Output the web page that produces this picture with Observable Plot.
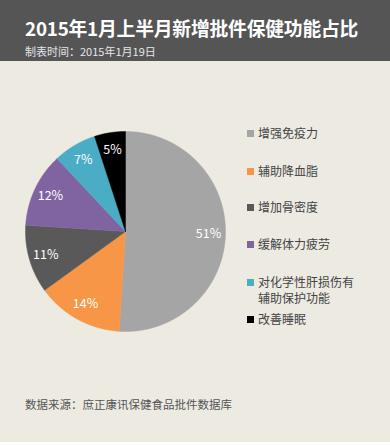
<!DOCTYPE html>
<html><head><meta charset="utf-8">
<script src="https://cdn.jsdelivr.net/npm/d3@7"></script>
<script src="https://cdn.jsdelivr.net/npm/@observablehq/plot@0.6"></script>
<style>
html,body{margin:0;padding:0;background:#fff;}
#wrap{position:relative;width:390px;height:446px;font-family:"Noto Sans CJK SC","Noto Sans",sans-serif;}
#head{position:absolute;left:0;top:0;width:390px;height:61px;background:#555555;}
#title{position:absolute;left:25px;top:14px;color:#fff;font-size:18.8px;font-weight:bold;white-space:nowrap;letter-spacing:-0.2px;}
#sub{position:absolute;left:25px;top:43px;color:#e6e6e6;font-size:11px;white-space:nowrap;}
#body{position:absolute;left:0;top:61px;width:390px;height:381px;background:#edeae2;}
#chart{position:absolute;left:0;top:0;}
#legend{position:absolute;left:247px;top:64px;font-size:12px;color:#444;}
.item{display:flex;align-items:flex-start;line-height:16px;}
.sw{width:7px;height:7px;margin-top:4.5px;margin-right:4px;flex:none;}
.lines div{height:16px;}
#foot{position:absolute;left:25px;top:335px;font-size:11.5px;color:#555;white-space:nowrap;}
</style></head>
<body>
<div id="wrap">
  <div id="head"><div id="title">2015年1月上半月新增批件保健功能占比</div><div id="sub">制表时间：2015年1月19日</div></div>
  <div id="body"><div id="chart"></div><div id="legend"></div><div id="foot">数据来源：庶正康讯保健食品批件数据库</div></div>
</div>
<script>
const categories = ["增强免疫力","辅助降血脂","增加骨密度","缓解体力疲劳","对化学性肝损伤有\n辅助保护功能","改善睡眠"];
const shares = [51, 14, 11, 12, 7, 5];
const colors = ["#a5a5a5","#f79646","#595959","#8064a2","#4bacc6","#000000"];

const pie = d3.pie().sort(null).value(d => d)(shares);
// polygon points in unit coordinates (angle clockwise from top)
const poly = [];
pie.forEach((a, i) => {
  poly.push({cat: categories[i], x: 0, y: 0});
  const n = Math.max(2, Math.ceil((a.endAngle - a.startAngle) / 0.01));
  for (let k = 0; k <= n; k++) {
    const t = a.startAngle + (a.endAngle - a.startAngle) * k / n;
    poly.push({cat: categories[i], x: Math.sin(t), y: Math.cos(t)});
  }
  poly.push({cat: categories[i], x: 0, y: 0});
});
const labels = pie.map((a, i) => {
  const m = (a.startAngle + a.endAngle) / 2, r = 0.83;
  return {label: shares[i] + "%", x: r * Math.sin(m), y: r * Math.cos(m)};
});

const plot = Plot.plot({
  width: 390, height: 381,
  margin: 0,
  x: {domain: [-1, 1], range: [25, 225], axis: null},
  y: {domain: [-1, 1], range: [270, 70], axis: null},
  color: {domain: categories, range: colors},
  style: {background: "transparent", fontFamily: "'Noto Sans CJK SC','Noto Sans',sans-serif"},
  marks: [
    Plot.line(poly, {x: "x", y: "y", z: "cat", fill: "cat", stroke: "cat", strokeWidth: 0.5}),
    Plot.text(labels, {x: "x", y: "y", text: "label", fill: "white", fontSize: 12.5})
  ]
});
document.getElementById("chart").appendChild(plot);

const gaps = [0, 22, 20, 21, 22, 5];
const lg = document.getElementById("legend");
categories.forEach((c, i) => {
  const d = document.createElement("div");
  d.className = "item";
  d.style.marginTop = gaps[i] + "px";
  const lines = c.split("\n").map(s => `<div>${s}</div>`).join("");
  d.innerHTML = `<div class="sw" style="background:${colors[i]}"></div><div class="lines">${lines}</div>`;
  lg.appendChild(d);
});
</script>
</body></html>
